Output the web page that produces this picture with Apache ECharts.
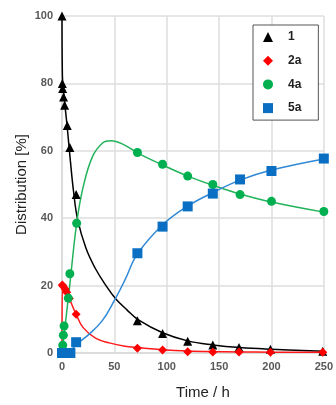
<!DOCTYPE html>
<html>
<head>
<meta charset="utf-8">
<script src="https://cdn.jsdelivr.net/npm/echarts@6/dist/echarts.min.js"></script>
<style>html,body{margin:0;padding:0;background:#fff;}#c{width:336px;height:405px;}</style>
</head>
<body>
<div id="c"></div>
<script>
// measured points (time h, distribution %)
const pts1  = [[0,100],[0.3,80],[0.6,78.5],[1.5,76],[2.5,73.5],[5,67.5],[7.5,61],[13.5,47],[72,9.6],[96,5.8],[120,3.5],[144,2.4],[169,1.6],[199,1.1],[249,0.5]];
const pts2a = [[0.3,20.2],[1,19.8],[3,19],[4.5,18],[7,16.2],[13.5,11.5],[72,1.4],[96,0.9],[120,0.4],[144,0.3],[169,0.3],[199,0.2],[249,0.2]];
const pts4a = [[0.7,2.3],[1.3,5.3],[2,8],[6,16.3],[7.5,23.5],[14,38.5],[72,59.5],[96,56],[120,52.5],[144,50],[170,47],[200,45],[250,42]];
const pts5a = [[0,0],[2,0],[4,0],[6,0],[8,0],[13.5,3.2],[72,29.6],[96,37.5],[120,43.5],[144,47.3],[170,51.5],[200,54],[250,57.7]];
// fitted curves
const fit1  = [[0,100],[0.4,82],[2,76],[5,67],[8,57],[11,48],[15,39.5],[23,31],[32,25],[42,20],[51,16.2],[62,12.8],[73,9.8],[96,6],[120,3.6],[144,2.4],[170,1.6],[200,1.1],[250,0.5]];
const fit2a = [[0,0],[0.3,20],[3,19],[7,16.2],[13.6,11.4],[20,7.6],[32,4.4],[45,3],[60,2],[73,1.6],[96,1],[120,0.6],[144,0.4],[170,0.3],[200,0.25],[250,0.2]];
const fit4a = [[0,0],[7,19],[14,38.5],[20,49],[29,58.2],[39,62.4],[46.5,63],[58,62],[72,59.4],[96,55.8],[120,52.5],[144,49.8],[170,47.2],[200,44.8],[250,41.8]];
const fit5a = [[0,0],[7,0.5],[14,2.6],[26,5.6],[38.5,9.6],[49.5,15.3],[60,21.6],[72,29.4],[96,38],[120,43.6],[144,47.6],[170,51.3],[200,54.3],[250,57.6]];
const names = ['1','2a','4a','5a'];
const xTicks = {min:0,max:250,interval:50};
const yTicks = {min:0,max:100,interval:20};

const markerColors = ['#000000','#ff0000','#00b050','#0a6fc2'];
const lineColors = ['#000000','#ff1a1a','#22b35a','#2f89d6'];
const symbols = ['triangle','diamond','circle','rect'];
const sizes = [9,9,9,10];
const pts = [pts1,pts2a,pts4a,pts5a];
const fits = [fit1,fit2a,fit4a,fit5a];

const series = [];
fits.forEach((f,i)=>series.push({
  name:'fit'+i, type:'line', data:f, smooth:0.4,
  showSymbol:false, lineStyle:{color:lineColors[i],width:1.5}, z:2, silent:true
}));
pts.forEach((p,i)=>series.push({
  name:names[i], type:'scatter', data:p, symbol:symbols[i], symbolSize:sizes[i],
  itemStyle:{color:markerColors[i],opacity:1}, z:3, clip:false
}));

const chart = echarts.init(document.getElementById('c'));
chart.setOption({
  animation:false,
  grid:{left:62,right:7,top:16,bottom:50},
  legend:{
    data:names, orient:'vertical', left:253, top:25,
    itemWidth:10, itemHeight:10, itemGap:11.7,
    padding:[6,17,6,10],
    backgroundColor:'#fff', borderColor:'#555', borderWidth:1,
    itemStyle:{opacity:1},
    textStyle:{fontFamily:'Liberation Sans',fontWeight:'bold',fontSize:12,color:'#222',lineHeight:12,padding:[0,0,0,10]}
  },
  xAxis:{
    type:'value', min:xTicks.min, max:xTicks.max, interval:xTicks.interval,
    name:'Time / h', nameLocation:'middle', nameGap:32,
    nameTextStyle:{fontFamily:'Liberation Sans',fontSize:15,color:'#222',padding:[0,0,0,20]},
    axisLine:{show:true,lineStyle:{color:'#d9d9d9',width:1.5}},
    axisTick:{show:false},
    axisLabel:{fontFamily:'Liberation Sans',fontWeight:'bold',fontSize:11,color:'#595959',margin:8},
    splitLine:{show:true,lineStyle:{color:'#dedede',width:1.5}}
  },
  yAxis:{
    type:'value', min:yTicks.min, max:yTicks.max, interval:yTicks.interval,
    name:'Distribution [%]', nameLocation:'middle', nameGap:33, nameRotate:90, nameMoveOverlap:false,
    nameTextStyle:{fontFamily:'Liberation Sans',fontSize:15,color:'#222'},
    axisLine:{show:true,lineStyle:{color:'#d9d9d9',width:1.5}},
    axisTick:{show:false},
    axisLabel:{fontFamily:'Liberation Sans',fontWeight:'bold',fontSize:11,color:'#595959',margin:9},
    splitLine:{show:true,lineStyle:{color:'#dedede',width:1.5}}
  },
  series:series
});
</script>
</body>
</html>
